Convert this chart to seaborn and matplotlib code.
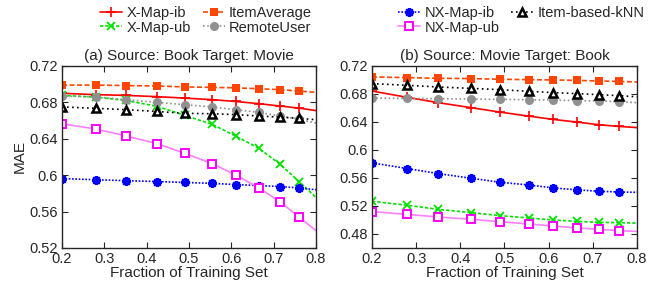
import numpy as np
import pandas as pd
import matplotlib
matplotlib.use("Agg")
import matplotlib.pyplot as plt
import seaborn as sns

# fraction of training set (last point = curve end at 0.8, no marker)
frac = [0.2, 0.28, 0.35, 0.425, 0.49, 0.555, 0.61, 0.665, 0.715, 0.76, 0.8]

# (a) Source: Book  Target: Movie
a_xmap_ib = [0.690, 0.6885, 0.6877, 0.6863, 0.6847, 0.683, 0.681, 0.6786, 0.676, 0.6737, 0.671]
a_xmap_ub = [0.6877, 0.6858, 0.6822, 0.6756, 0.6657, 0.6558, 0.643, 0.6296, 0.612, 0.593, 0.5755]
a_item_avg = [0.699, 0.699, 0.6985, 0.698, 0.697, 0.6965, 0.696, 0.695, 0.694, 0.6925, 0.691]
a_remote = [0.687, 0.686, 0.683, 0.680, 0.6775, 0.675, 0.672, 0.669, 0.665, 0.6616, 0.6572]
a_nx_ib = [0.5963, 0.595, 0.594, 0.593, 0.592, 0.591, 0.5897, 0.5886, 0.5875, 0.586, 0.584]
a_nx_ub = [0.6565, 0.6507, 0.6433, 0.6346, 0.624, 0.6127, 0.6003, 0.586, 0.5707, 0.554, 0.539]
a_knn = [0.675, 0.6735, 0.672, 0.670, 0.668, 0.6675, 0.6666, 0.665, 0.6638, 0.6624, 0.661]

# (b) Source: Movie  Target: Book
b_xmap_ib = [0.6842, 0.6752, 0.6676, 0.6604, 0.6541, 0.6484, 0.6437, 0.6398, 0.636, 0.6336, 0.632]
b_xmap_ub = [0.5267, 0.521, 0.5152, 0.5105, 0.5062, 0.5029, 0.500, 0.498, 0.4966, 0.4962, 0.4955]
b_item_avg = [0.7043, 0.7034, 0.7024, 0.702, 0.701, 0.7005, 0.700, 0.6995, 0.6985, 0.698, 0.697]
b_remote = [0.6742, 0.6737, 0.6733, 0.6727, 0.6723, 0.6718, 0.6714, 0.6705, 0.670, 0.669, 0.6676]
b_nx_ib = [0.5816, 0.5735, 0.5663, 0.5596, 0.5539, 0.550, 0.5459, 0.543, 0.541, 0.540, 0.5395]
b_nx_ub = [0.512, 0.508, 0.5043, 0.501, 0.4976, 0.4943, 0.4914, 0.4886, 0.4866, 0.4847, 0.4837]
b_knn = [0.6948, 0.6924, 0.690, 0.688, 0.6862, 0.6838, 0.682, 0.6805, 0.679, 0.6776, 0.676]

labels = ["X-Map-ib", "X-Map-ub", "ItemAverage", "RemoteUser",
          "NX-Map-ib", "NX-Map-ub", "Item-based-kNN"]

styles = {
    "X-Map-ib": dict(color="#ff0000", ls="-", marker="+", ms=7, mew=1.2, mfc="none", mec="#ff0000"),
    "X-Map-ub": dict(color="#00e000", ls=(0, (2, 1.2)), marker="x", ms=6, mew=1.3, mfc="none", mec="#00e000"),
    "ItemAverage": dict(color="#ff4500", ls=(0, (3, 1.5)), marker="s", ms=6, mew=0, mfc="#ff4500", mec="#ff4500"),
    "RemoteUser": dict(color="#909090", ls=(0, (1, 1.5)), marker="o", ms=6.5, mew=0, mfc="#909090", mec="#909090"),
    "NX-Map-ib": dict(color="#0000ff", ls=(0, (1, 1)), marker=(8, 2, 0), ms=6.5, mew=1.6, mfc="#0000ff", mec="#0000ff"),
    "NX-Map-ub": dict(color="#ff80ff", ls="-", marker="s", ms=6, mew=1.4, mfc="white", mec="#ff00ff"),
    "Item-based-kNN": dict(color="black", ls=(0, (1, 2)), marker="^", ms=6, mew=1.8, mfc="white", mec="black"),
}

panels = [
    ("(a) Source: Book Target: Movie",
     [a_xmap_ib, a_xmap_ub, a_item_avg, a_remote, a_nx_ib, a_nx_ub, a_knn],
     (0.52, 0.72), [0.52, 0.56, 0.6, 0.64, 0.68, 0.72]),
    ("(b) Source: Movie Target: Book",
     [b_xmap_ib, b_xmap_ub, b_item_avg, b_remote, b_nx_ib, b_nx_ub, b_knn],
     (0.46, 0.72), [0.48, 0.52, 0.56, 0.6, 0.64, 0.68, 0.72]),
]

sns.set_style("ticks")
plt.rcParams["font.family"] = ["Liberation Sans", "DejaVu Sans"]
plt.rcParams["xtick.direction"] = "in"
plt.rcParams["ytick.direction"] = "in"

fig = plt.figure(figsize=(6.62, 2.82), dpi=100)
ax_a = fig.add_axes([0.0937, 0.1206, 0.3837, 0.6454])
ax_b = fig.add_axes([0.5619, 0.1206, 0.4003, 0.6454])

handles = {}
for ax, (title, series, ylim, yticks) in zip([ax_a, ax_b], panels):
    for lab, vals in zip(labels, series):
        df = pd.DataFrame({"frac": frac, "mae": vals})
        st = styles[lab]
        sns.lineplot(data=df, x="frac", y="mae", ax=ax, color=st["color"], lw=1.2,
                     label=lab, legend=False)
        line = ax.get_lines()[-1]
        line.set_linestyle(st["ls"])
        line.set_marker(st["marker"])
        line.set_markersize(st["ms"])
        line.set_markeredgewidth(st["mew"])
        line.set_markerfacecolor(st["mfc"])
        line.set_markeredgecolor(st["mec"])
        line.set_markevery(list(range(10)))
        handles[lab] = line
    ax.set_xlim(0.2, 0.8)
    ax.set_ylim(*ylim)
    ax.set_xticks([0.2, 0.3, 0.4, 0.5, 0.6, 0.7, 0.8])
    ax.set_xticklabels(["0.2", "0.3", "0.4", "0.5", "0.6", "0.7", "0.8"])
    ax.set_yticks(yticks)
    ax.set_yticklabels([f"{t:g}" for t in yticks])
    ax.tick_params(labelsize=10.5, length=4, width=0.8, top=True, right=True, pad=3)
    for sp in ax.spines.values():
        sp.set_visible(True)
        sp.set_linewidth(1.0)
    ax.set_title(title, fontsize=11, pad=4)
    ax.set_xlabel("Fraction of Training Set", fontsize=11, labelpad=0)
    ax.set_ylabel("")
ax_a.set_ylabel("MAE", fontsize=11, labelpad=2)

leg_kw = dict(frameon=False, fontsize=10.5, handlelength=1.5, handletextpad=0.3,
              labelspacing=0.05, columnspacing=0.8, borderaxespad=0)
fig.legend([handles[l] for l in labels[:4]], labels[:4], ncol=2,
           loc="upper left", bbox_to_anchor=(0.143, 1.0), **leg_kw)
fig.legend([handles[l] for l in labels[4:]], labels[4:], ncol=2,
           loc="upper left", bbox_to_anchor=(0.593, 1.0), **leg_kw)

fig.savefig("out.png", dpi=100)
